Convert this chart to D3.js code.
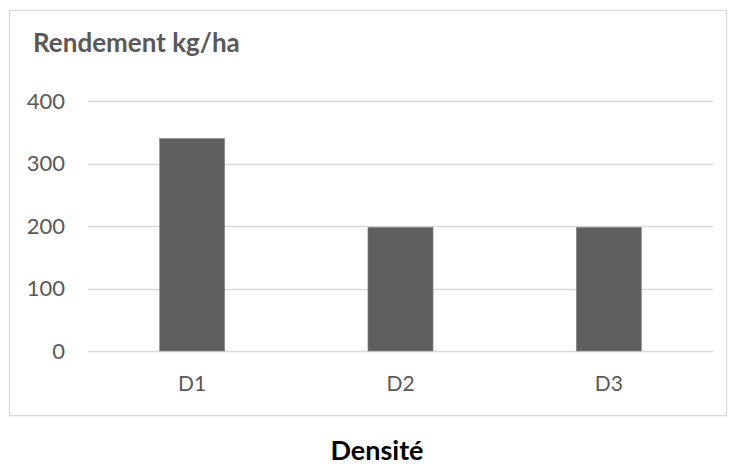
<!DOCTYPE html>
<html><head><meta charset="utf-8">
<script src="https://cdn.jsdelivr.net/npm/d3@7"></script>
<style>body{margin:0;background:#fff}svg{display:block}text{font-family:Lato,"Open Sans",sans-serif}</style>
</head><body><svg id="c" width="734" height="467"></svg>
<script>
const categories = ["D1","D2","D3"];
const values = [340, 198, 198];
const yTicks = [0,100,200,300,400];
const yTitle = "Rendement kg/ha";
const xTitle = "Densité";

const svg = d3.select("#c");
svg.append("rect").attr("x",9.5).attr("y",10.5).attr("width",717).attr("height",405)
  .attr("fill","#fff").attr("stroke","#d9d9d9").attr("stroke-width",1.3);

const x = d3.scaleBand().domain(categories).range([88,713]).paddingInner(0.6875).paddingOuter(0.34375);
const y = d3.scaleLinear().domain([0,400]).range([351,101]);

const g = svg.append("g");
g.selectAll("line.grid").data(yTicks).join("line").attr("class","grid")
  .attr("x1",88).attr("x2",713).attr("y1",d=>Math.round(y(d))+0.5).attr("y2",d=>Math.round(y(d))+0.5)
  .attr("stroke","#d9d9d9").attr("stroke-width",1.5);

const yAxis = d3.axisLeft(y).tickValues(yTicks).tickSize(0).tickPadding(0);
const ya = svg.append("g").attr("transform","translate(65,0)").call(yAxis);
ya.select(".domain").remove();
ya.selectAll("text").attr("font-size",22).attr("fill","#595959").attr("font-family","Lato,sans-serif");

g.selectAll("rect.bar").data(values).join("rect").attr("class","bar")
  .attr("x",(d,i)=>x(categories[i])).attr("width",x.bandwidth())
  .attr("y",d=>y(d)).attr("height",d=>y(0)-y(d))
  .attr("fill","#5f5f5f").attr("stroke","#8c8c8c").attr("stroke-width",0.6);

const xAxis = d3.axisBottom(x).tickSize(0).tickPadding(0);
const xa = svg.append("g").attr("transform","translate(0,384)").call(xAxis);
xa.select(".domain").remove();
xa.selectAll("text").attr("font-size",21).attr("fill","#595959").attr("font-family","Lato,sans-serif").attr("dy","0.35em");

svg.append("text").attr("x",33).attr("y",52).attr("font-size",26).attr("font-weight","bold")
  .attr("fill","#595959").text(yTitle);
svg.append("text").attr("x",377).attr("y",460).attr("text-anchor","middle").attr("font-size",27)
  .attr("font-weight","bold").attr("fill","#000").text(xTitle);
</script></body></html>
